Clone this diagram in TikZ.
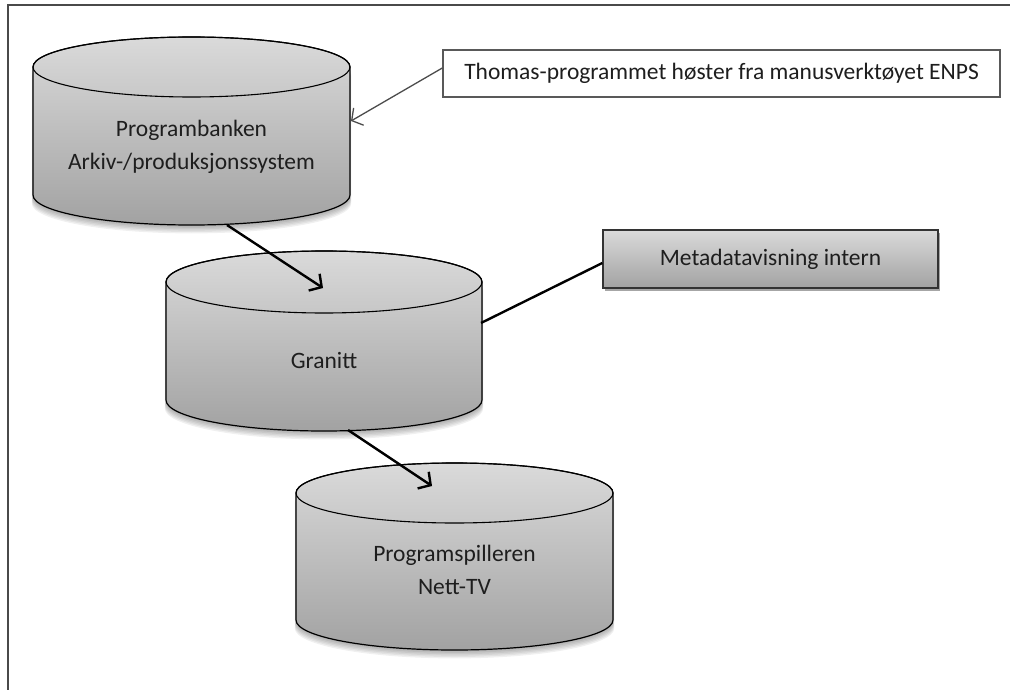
\documentclass[tikz,border=0pt]{standalone}
\usepackage{fontspec}
\setmainfont{Carlito}
\usetikzlibrary{arrows.meta,shadows}
\definecolor{cyltop}{HTML}{DADADA}
\definecolor{cylbot}{HTML}{A2A2A2}
\definecolor{txt}{HTML}{1E1E1E}
\definecolor{framegray}{HTML}{4A4A4A}
\newcommand\dbcylinder[5]{% #1 cx, #2 top y, #3 bottom y, #4 rx, #5 ry
  \foreach \k in {1,...,6}{%
    \fill[black,opacity=0.06]
      ({#1-#4-0.2*\k},{#2+1.4*\k}) -- ({#1-#4-0.2*\k},{#3+1.4*\k})
      arc[start angle=180,end angle=360,x radius={(#4+0.2*\k)*1pt},y radius=#5pt]
      -- ({#1+#4+0.2*\k},{#2+1.4*\k}) -- cycle;}
  \path[cylfill,draw=black,line width=1.2pt]
    ({#1-#4},#2) -- ({#1-#4},#3)
    arc[start angle=180,end angle=360,x radius=#4pt,y radius=#5pt]
    -- ({#1+#4},#2)
    arc[start angle=0,end angle=180,x radius=#4pt,y radius=#5pt] -- cycle;
  \draw[line width=1.1pt] (#1,#2) ellipse[x radius=#4pt,y radius=#5pt];
}
\tikzset{
  cylfill/.style={top color=cyltop,bottom color=cylbot},
  cyltext/.style={align=center,text=txt,font=\fontsize{23.5}{33}\selectfont,inner sep=0pt},
  boxtext/.style={text=txt,font=\fontsize{23.5}{26}\selectfont,inner sep=0pt},
  flow/.style={line width=2.4pt,-{Straight Barb[length=9pt,width=20pt,line width=2.4pt]}},
  feed/.style={draw=black!70,line width=1.3pt,-{Straight Barb[length=8pt,width=20pt,line width=1.3pt]}},
  link/.style={line width=2.4pt},
}
\begin{document}
\begin{tikzpicture}[x=1pt,y=-1pt]
\useasboundingbox (0,0) rectangle (1019,690);
% frame
\draw[framegray,line width=1.4pt] (8,690) -- (8,5) -- (1010,5);
% cylinders
\dbcylinder{191.5}{67}{195}{158.5}{30}
\dbcylinder{324}{282}{400}{158}{31}
\dbcylinder{454.5}{493}{620}{158.5}{30}
\node[cyltext] (pb) at (191.5,147) {Programbanken\\Arkiv-/produksjonssystem};
\node[cyltext] (gr) at (324,360) {Granitt};
\node[cyltext] (ps) at (454.5,570) {Programspilleren\\Nett-TV};
% boxes
\node[boxtext,draw=black!65,fill=white,line width=1.4pt,minimum width=557pt,minimum height=47pt] (thomas) at (721.5,73.5) {Thomas-programmet høster fra manusverktøyet ENPS};
\node[boxtext,draw=black!80,line width=1.4pt,top color=cyltop,bottom color=cylbot,
      drop shadow={shadow xshift=2pt,shadow yshift=-3pt,opacity=0.35,fill=black},
      minimum width=335pt,minimum height=58pt] (meta) at (770.5,259) {Metadatavisning intern};
% connector end points
\coordinate (pbout) at (227,225);
\coordinate (grin) at (323,288);
\coordinate (grout) at (348,430);
\coordinate (psin) at (432,486);
\coordinate (pbside) at (351,121);
\coordinate (grside) at (481,323);
% connectors
\draw[flow] (pbout) -- (grin);
\draw[flow] (grout) -- (psin);
\draw[feed] ([yshift=5.5pt]thomas.west) -- (pbside);
\draw[link] (grside) -- ([yshift=-4pt]meta.west);
\end{tikzpicture}
\end{document}
